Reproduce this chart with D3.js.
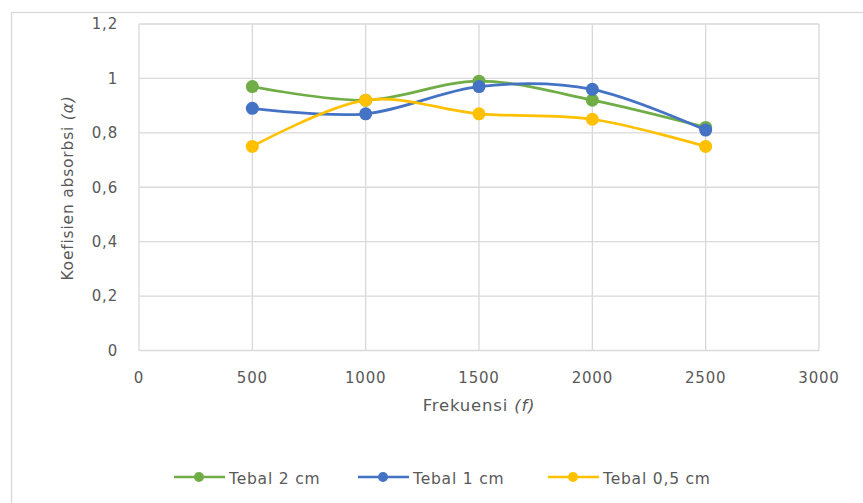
<!DOCTYPE html>
<html><head><meta charset="utf-8">
<script src="https://cdn.jsdelivr.net/npm/d3@7"></script>
<style>
html,body{margin:0;padding:0;background:#fff;}
svg{display:block;}
text{font-family:"DejaVu Sans",sans-serif;fill:#595959;letter-spacing:0.8px;}
</style></head>
<body>
<script>
const frequencies = [500, 1000, 1500, 2000, 2500];
const seriesNames = ["Tebal 2 cm", "Tebal 1 cm", "Tebal 0,5 cm"];
const tebal2 = [0.97, 0.92, 0.99, 0.92, 0.82];
const tebal1 = [0.89, 0.87, 0.97, 0.96, 0.81];
const tebal05 = [0.75, 0.92, 0.87, 0.85, 0.75];
const colors = ["#70AD47", "#4472C4", "#FFC000"];
const xTicks = [0, 500, 1000, 1500, 2000, 2500, 3000];
const yTicks = [0, 0.2, 0.4, 0.6, 0.8, 1, 1.2];
const yTickLabels = ["0", "0,2", "0,4", "0,6", "0,8", "1", "1,2"];

const W = 863, H = 503;
const svg = d3.select("body").append("svg").attr("width", W).attr("height", H);

// outer chart border
svg.append("rect").attr("x", 11.5).attr("y", 12.5).attr("width", 900).attr("height", 600)
  .attr("fill", "none").attr("stroke", "#D9D9D9").attr("stroke-width", 1.3);

const x = d3.scaleLinear().domain([0, 3000]).range([139, 819]);
const y = d3.scaleLinear().domain([0, 1.2]).range([350.5, 24]);

// gridlines
svg.append("g").selectAll("line").data(yTicks).join("line")
  .attr("x1", x(0)).attr("x2", x(3000))
  .attr("y1", d => y(d)).attr("y2", d => y(d))
  .attr("stroke", "#D9D9D9").attr("stroke-width", 1.3);
svg.append("g").selectAll("line").data(xTicks).join("line")
  .attr("x1", d => x(d)).attr("x2", d => x(d))
  .attr("y1", y(0)).attr("y2", y(1.2))
  .attr("stroke", "#D9D9D9").attr("stroke-width", 1.3);

// tick labels
svg.append("g").selectAll("text").data(yTicks).join("text")
  .attr("x", 118).attr("y", d => y(d)).attr("dy", "0.36em")
  .attr("text-anchor", "end").attr("font-size", 15)
  .text((d, i) => yTickLabels[i]);
svg.append("g").selectAll("text").data(xTicks).join("text")
  .attr("x", d => x(d)).attr("y", 383)
  .attr("text-anchor", "middle").attr("font-size", 15)
  .text(d => d);

// axis titles
const xt = svg.append("text").attr("x", 479).attr("y", 411).attr("text-anchor", "middle").attr("font-size", 16.5);
xt.append("tspan").text("Frekuensi ");
xt.append("tspan").attr("font-style", "italic").text("(f)");
const yt = svg.append("text").attr("transform", "translate(73,188) rotate(-90)").attr("text-anchor", "middle").attr("font-size", 15.5);
yt.append("tspan").text("Koefisien absorbsi ");
yt.append("tspan").attr("font-style", "italic").text("(α)");

// series
const allSeries = [tebal2, tebal1, tebal05];
const line = d3.line().x((d, i) => x(frequencies[i])).y(d => y(d)).curve(d3.curveCardinal.tension(0));
allSeries.forEach((vals, k) => {
  const g = svg.append("g");
  g.append("path").attr("d", line(vals)).attr("fill", "none")
    .attr("stroke", colors[k]).attr("stroke-width", 2.7).attr("stroke-linecap", "round");
  g.selectAll("circle").data(vals).join("circle")
    .attr("cx", (d, i) => x(frequencies[i])).attr("cy", d => y(d)).attr("r", 6.5)
    .attr("fill", colors[k]);
});

// legend
const legendX = [174, 358, 548];
const lg = svg.append("g");
seriesNames.forEach((name, k) => {
  const lx = legendX[k], ly = 477;
  lg.append("line").attr("x1", lx).attr("x2", lx + 51).attr("y1", ly).attr("y2", ly)
    .attr("stroke", colors[k]).attr("stroke-width", 2.7);
  lg.append("circle").attr("cx", lx + 25).attr("cy", ly).attr("r", 5).attr("fill", colors[k]);
  lg.append("text").attr("x", lx + 55).attr("y", 484).attr("font-size", 15.5).text(name);
});
</script>
</body></html>
